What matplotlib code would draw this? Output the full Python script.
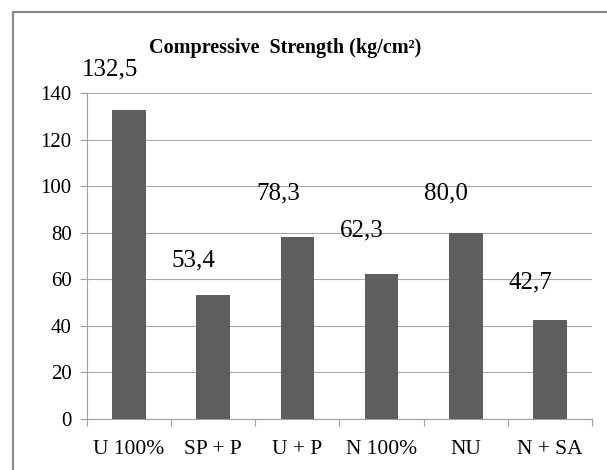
import matplotlib
matplotlib.use("Agg")
import matplotlib.pyplot as plt
from matplotlib.patches import Rectangle

# values
categories = ["U 100%", "SP + P", "U + P", "N 100%", "NU", "N + SA"]
strength = [132.5, 53.4, 78.3, 62.3, 80.0, 42.7]
labels = ["132,5", "53,4", "78,3", "62,3", "80,0", "42,7"]
# heights where the (hand-moved) data labels sit, in data units
label_y = [149.9, 68.3, 97.0, 81.1, 97.0, 58.8]
yticks = [0, 20, 40, 60, 80, 100, 120, 140]

plt.rcParams["font.family"] = ["Liberation Serif", "DejaVu Serif"]

fig = plt.figure(figsize=(6.07, 4.70), dpi=100)
ax = fig.add_axes([87 / 607, 51 / 470, 505 / 607, 326 / 470])

x = range(len(categories))
ax.bar(x, strength, width=0.4, color="#5e5e5e", zorder=3)

ax.set_xlim(-0.5, len(categories) - 0.5)
ax.set_ylim(0, 140)
ax.set_yticks(yticks)
ax.set_yticklabels([str(t) for t in yticks], fontsize=15)
ax.yaxis.grid(True, color="#a9a9a9", linewidth=0.8, zorder=0)

ax.set_xticks(x)
ax.set_xticklabels(categories, fontsize=15.5)
ax.set_xticks([i - 0.5 for i in range(len(categories) + 1)], minor=True)
ax.tick_params(axis="x", which="major", length=0, pad=15)
ax.tick_params(axis="x", which="minor", length=5, color="#a0a0a0", width=0.8)
ax.tick_params(axis="y", length=5, color="#a0a0a0", width=0.8, pad=6)

for side in ["top", "right"]:
    ax.spines[side].set_visible(False)
for side in ["left", "bottom"]:
    ax.spines[side].set_color("#a0a0a0")
    ax.spines[side].set_linewidth(0.8)

for i, (t, ly) in enumerate(zip(labels, label_y)):
    ax.annotate(t, xy=(i, ly), xytext=(-14, 0), textcoords="offset points",
                ha="center", va="center", fontsize=18, annotation_clip=False)

fig.text(285 / 607, 1 - 48 / 470, "Compressive  Strength (kg/cm²)",
         ha="center", va="center", fontsize=14.5, fontweight="bold")

# outer chart border
fig.patches.append(Rectangle((13 / 607, -0.05), 1.0, 1 - 12 / 470 + 0.05,
                             transform=fig.transFigure, fill=False,
                             edgecolor="#8c8c8c", linewidth=1.6))

fig.savefig("out.png", dpi=100)
